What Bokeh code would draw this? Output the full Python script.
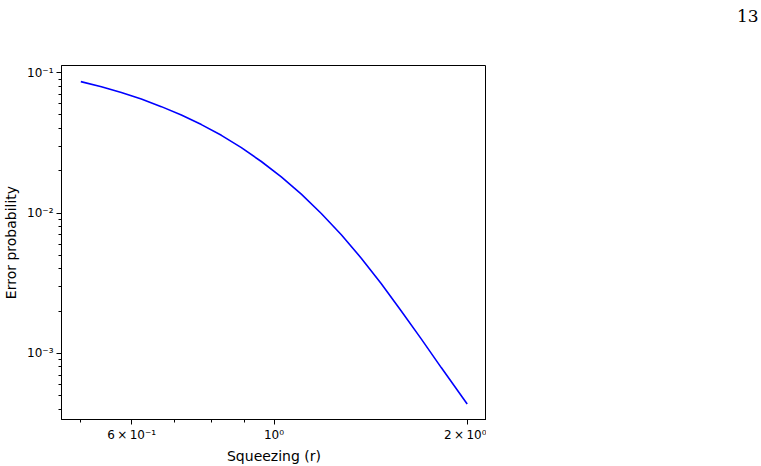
from bokeh.plotting import figure
from bokeh.models import Range1d, FixedTicker, Div
from bokeh.layouts import row
from bokeh.embed import file_html
from bokeh.resources import INLINE

# Data
squeezing_r = [0.5, 0.5383, 0.5782, 0.6212, 0.6675, 0.7172, 0.7706, 0.8279, 0.8895, 0.9555,
               1.0265, 1.1029, 1.1849, 1.2732, 1.3677, 1.4697, 1.5786, 1.6959, 1.8222, 2.0]
error_prob = [0.0864, 0.07949, 0.07234, 0.06499, 0.05733, 0.04992, 0.0427, 0.03581, 0.02927, 0.0233,
              0.01808, 0.01364, 0.009935, 0.007003, 0.004769, 0.00313, 0.002007, 0.001268, 0.000792, 0.000436]

x_major = [0.6, 1.0, 2.0]
x_major_labels = ["6\u2009×\u200910⁻¹", "10⁰", "2\u2009×\u200910⁰"]
x_minor = [0.5, 0.7, 0.8, 0.9]
y_major = [1e-3, 1e-2, 1e-1]
y_major_labels = ["10⁻³", "10⁻²", "10⁻¹"]
y_minor = [m * 10.0 ** e for e in (-4, -3, -2) for m in range(2, 10)]
page_number = "13"

p = figure(width=486, height=466, x_axis_type="log", y_axis_type="log",
           output_backend="svg", toolbar_location=None,
           x_range=Range1d(0.4665, 2.1435), y_range=Range1d(3.379e-4, 0.1126),
           min_border_left=60, min_border_right=0, min_border_top=65, min_border_bottom=44)

p.line(squeezing_r, error_prob, line_color="#0000ff", line_width=1.6)

p.xgrid.visible = False
p.ygrid.visible = False
p.outline_line_color = "black"
p.outline_line_width = 1
p.background_fill_color = "white"
p.border_fill_color = "white"

p.xaxis.ticker = FixedTicker(ticks=x_major, minor_ticks=x_minor)
p.xaxis.major_label_overrides = {v: s for v, s in zip(x_major, x_major_labels)}
p.yaxis.ticker = FixedTicker(ticks=y_major, minor_ticks=y_minor)
p.yaxis.major_label_overrides = {v: s for v, s in zip(y_major, y_major_labels)}

for ax in (p.xaxis[0], p.yaxis[0]):
    ax.major_tick_out = 5
    ax.major_tick_in = 0
    ax.minor_tick_out = 3
    ax.minor_tick_in = 0
    ax.axis_line_color = "black"
    ax.major_tick_line_color = "black"
    ax.minor_tick_line_color = "black"
    ax.major_label_text_font = "DejaVu Sans"
    ax.major_label_text_font_size = "12px"
    ax.major_label_text_color = "black"
    ax.axis_label_text_font = "DejaVu Sans"
    ax.axis_label_text_font_size = "14px"
    ax.axis_label_text_font_style = "normal"
    ax.axis_label_text_color = "black"
    ax.major_label_standoff = 3

p.xaxis.axis_label = "Squeezing (r)"
p.yaxis.axis_label = "Error probability"
p.xaxis.axis_label_standoff = 3
p.yaxis.axis_label_standoff = 5

# Page number to the right of the chart
page = Div(text=page_number, width=275, height=466, margin=0,
           styles={"font-family": "'DejaVu Serif', serif", "font-size": "17px",
                   "color": "black", "background": "white",
                   "padding-left": "251px", "padding-top": "6px",
                   "line-height": "20px", "box-sizing": "border-box"})

layout = row(p, page)
open("out.html", "w").write(file_html(layout, INLINE))
